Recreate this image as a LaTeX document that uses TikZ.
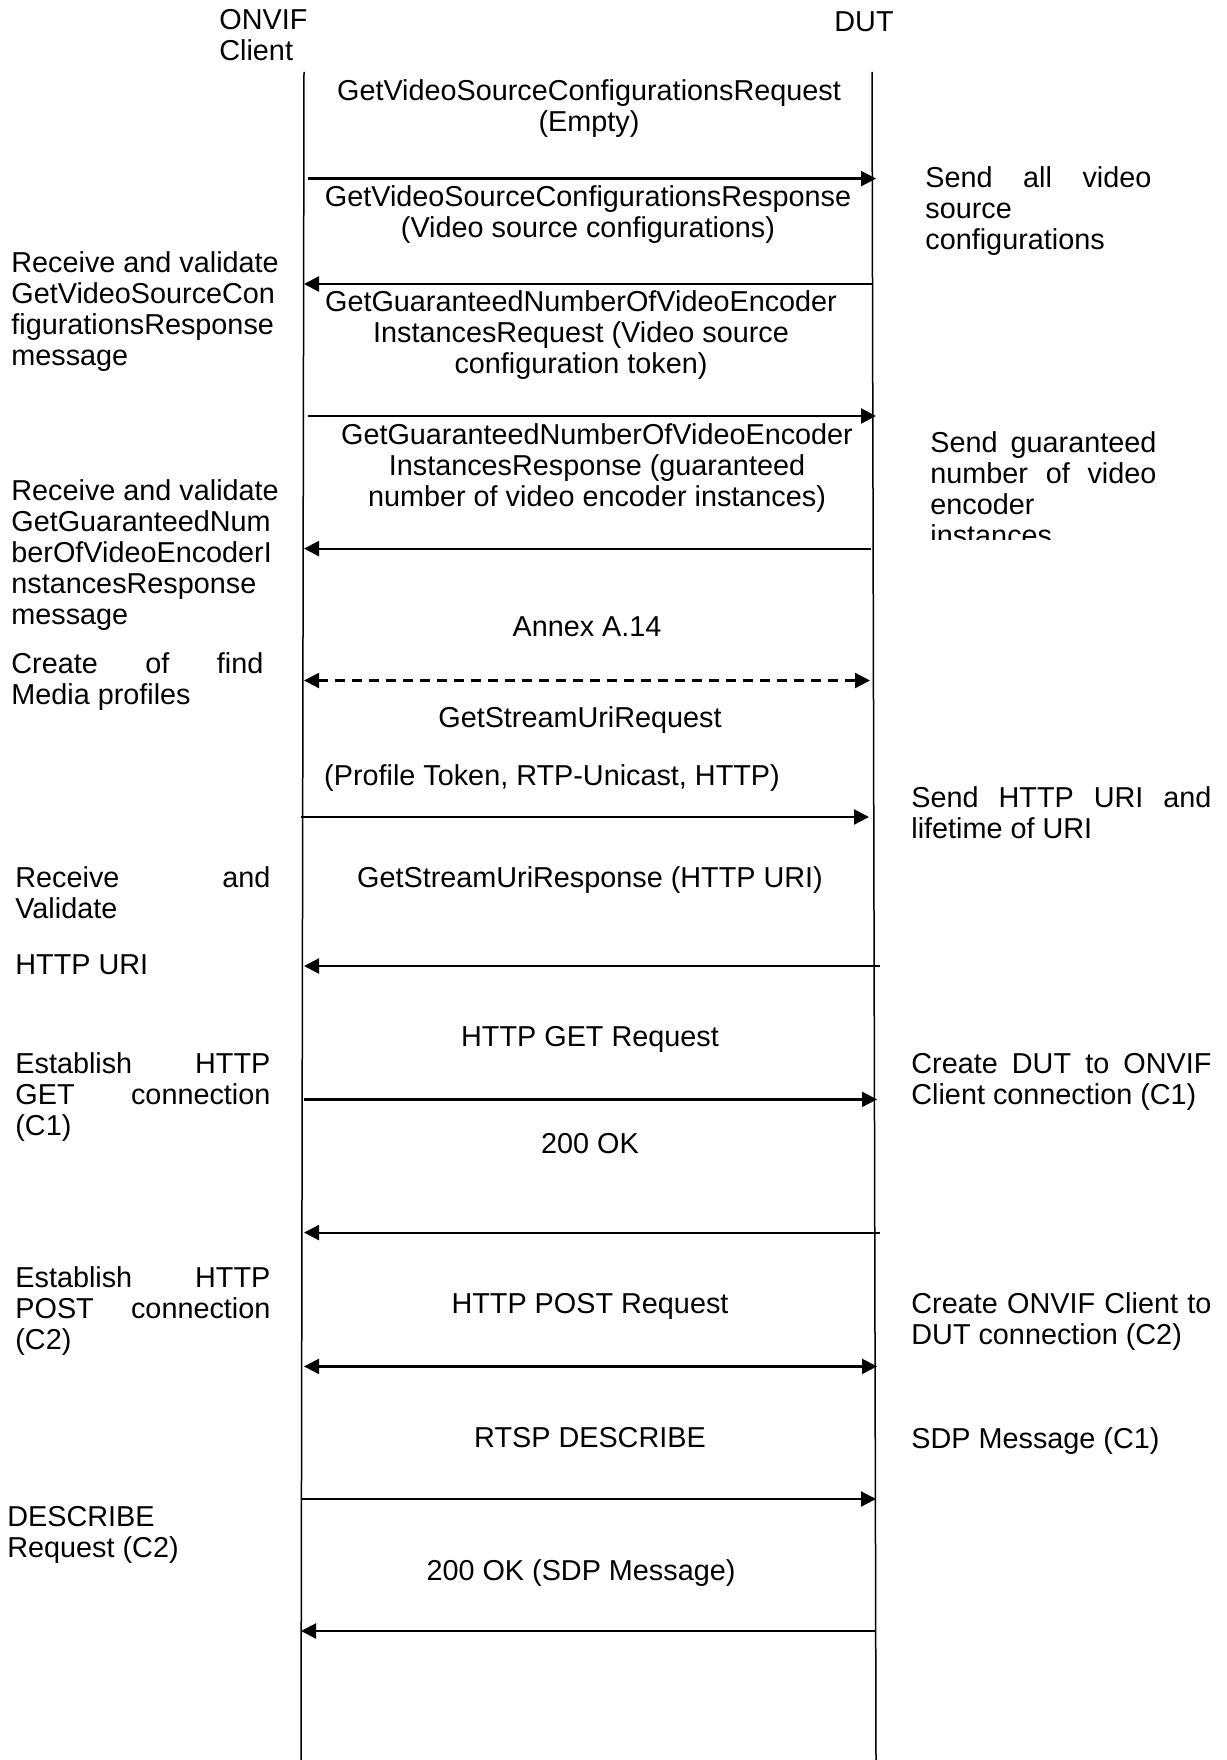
\documentclass[tikz,border=0pt]{standalone}
\usepackage{fontspec}
\setmainfont{Liberation Sans}
\usetikzlibrary{arrows.meta}

\begin{document}
\begin{tikzpicture}[x=0.5pt,y=-0.5pt,>={Triangle[length=7.5pt,width=7.5pt]}]
      \useasboundingbox (0,0) rectangle (1226,1760);
      \tikzset{T/.style = {inner sep=0pt, font=\fontsize{14.4}{15.45}\selectfont}}
      \tikzset{M/.style = {T, anchor=north, align=center}}
      \tikzset{N/.style = {T, anchor=north west, align=left}}
      \tikzset{L/.style = {draw, line width=0.75pt}}
      \tikzset{E/.style = {draw, line width=1.1pt, ->}}
      % lifelines
      \node[N](cl) at (219,8.7) {ONVIF\\Client};
      \node[M](dut) at (864,11.5) {DUT};
      \coordinate (ct) at (304,72);
      \coordinate (cb) at (301,1760);
      \coordinate (dt) at (872,72);
      \coordinate (db) at (876,1760);
      \draw[L](ct) to (cb);
      \draw[L](dt) to (db);
      % messages
      \node[M](m1) at (589,79) {GetVideoSourceConfigurationsRequest\\(Empty)};
      \node[M](m2) at (588,185.5) {GetVideoSourceConfigurationsResponse\\(Video source configurations)};
      \node[M](m3) at (581,290.5) {GetGuaranteedNumberOfVideoEncoder\\InstancesRequest (Video source\\configuration token)};
      \node[M](m4) at (597,423) {GetGuaranteedNumberOfVideoEncoder\\InstancesResponse (guaranteed\\number of video encoder instances)};
      \node[M](m5) at (587,616) {Annex A.14};
      \node[M](m6) at (580,706.6) {GetStreamUriRequest};
      \node[M](m6b) at (552,764.4) {(Profile Token, RTP-Unicast, HTTP)};
      \node[M](m7) at (590,866) {GetStreamUriResponse (HTTP URI)};
      \node[M](m8) at (590,1025.6) {HTTP GET Request};
      \node[M](m9) at (590,1133) {200 OK};
      \node[M](m10) at (590,1292.6) {HTTP POST Request};
      \node[M](m11) at (590,1427) {RTSP DESCRIBE};
      \node[M](m12) at (581,1559) {200 OK (SDP Message)};
      % client side notes
      \node[N](l1) at (11,251.2) {Receive and validate\\GetVideoSourceCon\\figurationsResponse\\message};
      \node[N](l2) at (11,479.2) {Receive and validate\\GetGuaranteedNum\\berOfVideoEncoderI\\nstancesResponse\\message};
      \node[N](l3) at (11,652.1) {\makebox[126pt][s]{Create of find}\\Media profiles};
      \node[N](l4) at (15,866) {\makebox[127.5pt][s]{Receive and}\\Validate};
      \node[N](l5) at (15,954) {HTTP URI};
      \node[N](l6) at (15,1052.6) {\makebox[127.5pt][s]{Establish HTTP}\\\makebox[127.5pt][s]{GET connection}\\(C1)};
      \node[N](l7) at (15,1266.2) {\makebox[127.5pt][s]{Establish HTTP}\\\makebox[127.5pt][s]{POST connection}\\(C2)};
      \node[N](l8) at (7,1505.6) {DESCRIBE\\Request (C2)};
      % DUT side notes
      \node[N](r1) at (925,166.4) {\makebox[113pt][s]{Send all video}\\source\\configurations};
      \begin{scope}
        \clip (900,420) rectangle (1226,539.5);
        \node[N](r2) at (930,431.4) {\makebox[113pt][s]{Send guaranteed}\\\makebox[113pt][s]{number of video}\\encoder\\instances};
      \end{scope}
      \node[N](r3) at (911,786.3) {\makebox[150pt][s]{Send HTTP URI and}\\lifetime of URI};
      \node[N](r4) at (911,1052.6) {\makebox[150pt][s]{Create DUT to ONVIF}\\Client connection (C1)};
      \node[N](r5) at (911,1292.6) {\makebox[150pt][s]{Create ONVIF Client to}\\DUT connection (C2)};
      \node[N](r6) at (911,1427) {SDP Message (C1)};
      % arrows
      \coordinate (a1s) at (308,178.6);  \coordinate (a1e) at (876,178.6);
      \coordinate (a2s) at (872,284);    \coordinate (a2e) at (304,284);
      \coordinate (a3s) at (308,416);    \coordinate (a3e) at (876,416);
      \coordinate (a4s) at (871,548.6);  \coordinate (a4e) at (304,548.6);
      \coordinate (a5s) at (304,680.5);  \coordinate (a5e) at (870,680.5);
      \coordinate (a6s) at (301,817);    \coordinate (a6e) at (869,817);
      \coordinate (a7s) at (880,966);    \coordinate (a7e) at (304,966);
      \coordinate (a8s) at (304,1099.4); \coordinate (a8e) at (877,1099.4);
      \coordinate (a9s) at (880,1232.6); \coordinate (a9e) at (304,1232.6);
      \coordinate (a10s) at (304,1366.4); \coordinate (a10e) at (877,1366.4);
      \coordinate (a11s) at (300.5,1499); \coordinate (a11e) at (876,1499);
      \coordinate (a12s) at (876,1631);  \coordinate (a12e) at (301,1631);
      \draw[E](a1s) to (a1e);
      \draw[E](a2s) to (a2e);
      \draw[E](a3s) to (a3e);
      \draw[E](a4s) to (a4e);
      \draw[E,<->,dash pattern=on 5pt off 3.5pt](a5s) to (a5e);
      \draw[E](a6s) to (a6e);
      \draw[E](a7s) to (a7e);
      \draw[E](a8s) to (a8e);
      \draw[E](a9s) to (a9e);
      \draw[E,<->](a10s) to (a10e);
      \draw[E](a11s) to (a11e);
      \draw[E](a12s) to (a12e);
    \end{tikzpicture}
\end{document}
